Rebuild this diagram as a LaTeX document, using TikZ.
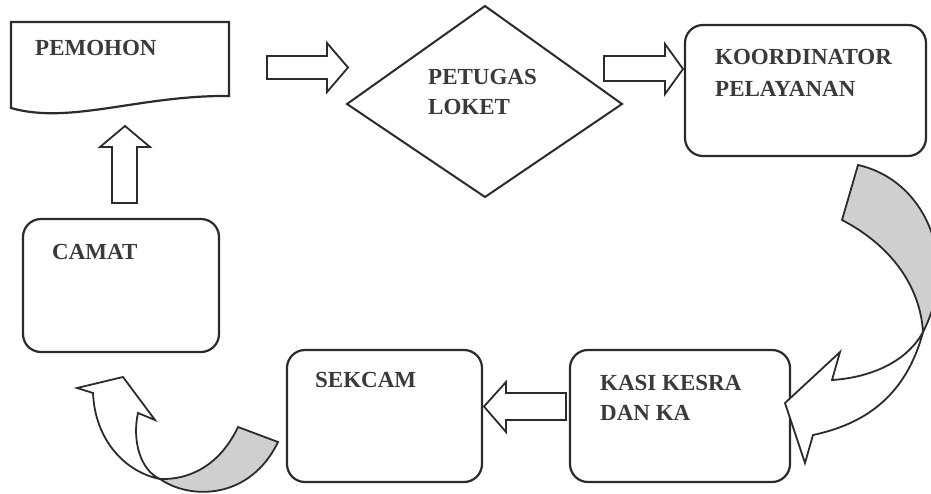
\documentclass[tikz,border=0pt]{standalone}
\usepackage{fontspec}
\setmainfont{Liberation Serif}
\begin{document}
\begin{tikzpicture}[x=1pt,y=-1pt,
  box/.style={draw=linec, line width=2.2pt, rounded corners=18pt, fill=white, inner sep=0pt, outer sep=0pt},
  lbl/.style={anchor=west, inner sep=0pt, font=\fontsize{23}{30}\selectfont\bfseries, text=txtc},
  blk/.style={draw=linec, line width=1.8pt, fill=white, line join=miter},
  curvband/.style={draw=linec, line width=1.8pt, line join=miter}]
\definecolor{linec}{HTML}{2B2B2B}
\definecolor{txtc}{HTML}{3A3A3A}
\definecolor{bandc}{HTML}{CFCFCF}
\useasboundingbox (0,0) rectangle (931,493);
\clip (0,0) rectangle (931,493);
\fill[white] (0,0) rectangle (931,493);

% PEMOHON document shape
\draw[linec, line width=2.2pt, line join=miter] (11,22) -- (229,22) -- (229,96)
  .. controls (140,95) and (70,125) .. (11,108) -- cycle;
\coordinate (pemohon) at (120,60);
\node[lbl] (tpemohon) at (35,48) {PEMOHON};

% PETUGAS LOKET diamond
\draw[linec, line width=2pt] (485,6) -- (622,104) -- (485,197) -- (347,104) -- cycle;
\coordinate (petugas) at (485,104);
\node[lbl] (tpetugas1) at (428,77) {PETUGAS};
\node[lbl] (tpetugas2) at (428,107) {LOKET};

% boxes
\node[box, minimum width=241pt, minimum height=131pt] (koord) at (805.5,90.5) {};
\node[lbl] (tkoord1) at (715,57) {KOORDINATOR};
\node[lbl] (tkoord2) at (715,89) {PELAYANAN};

\node[box, minimum width=196pt, minimum height=133pt] (camat) at (121,285.5) {};
\node[lbl] (tcamat) at (52,252) {CAMAT};

\node[box, minimum width=195pt, minimum height=132pt] (sekcam) at (384.5,416) {};
\node[lbl] (tsekcam) at (315,380) {SEKCAM};

\node[box, minimum width=220pt, minimum height=132pt] (kasi) at (680,416) {};
\node[lbl] (tkasi1) at (600,383) {KASI KESRA};
\node[lbl] (tkasi2) at (600,413) {DAN KA};

% block arrow PEMOHON -> PETUGAS
\draw[blk] (267,56) -- (327,56) -- (327,43) -- (348,67.5) -- (327,92) -- (327,79) -- (267,79) -- cycle;
% block arrow PETUGAS -> KOORDINATOR
\draw[blk] (604,56) -- (665,56) -- (665,44) -- (683,69) -- (665,94) -- (665,81) -- (604,81) -- cycle;
% block arrow KASI -> SEKCAM
\draw[blk] (566,393) -- (506,393) -- (506,382) -- (484,406.5) -- (506,432) -- (506,420) -- (566,420) -- cycle;
% block arrow CAMAT -> PEMOHON
\draw[blk] (112,203) -- (112,147) -- (100,147) -- (125,126) -- (150,147) -- (137,147) -- (137,203) -- cycle;

% curved arrow KOORDINATOR -> KASI
\coordinate (xr) at (923,332);
\filldraw[curvband, fill=bandc] (858,165) .. controls (925,180) and (960,260) .. (xr)
  .. controls (920,285) and (890,245) .. (842,220) -- cycle;
\filldraw[curvband, fill=white] (xr) .. controls (905,365) and (865,378) .. (832,380)
  -- (840,352) -- (785,403) -- (805,463) -- (813,435)
  .. controls (860,425) and (905,400) .. (xr);

% curved arrow SEKCAM -> CAMAT
\coordinate (xl) at (160,479);
\filldraw[curvband, fill=bandc] (238,427) .. controls (220,465) and (190,480) .. (xl)
  .. controls (190,500) and (250,500) .. (278,442) -- cycle;
\filldraw[curvband, fill=white] (xl) .. controls (140,470) and (132,440) .. (138,413)
  -- (155,420) -- (123,377) -- (77,388) -- (93,393)
  .. controls (95,440) and (125,472) .. (xl);
\end{tikzpicture}
\end{document}
